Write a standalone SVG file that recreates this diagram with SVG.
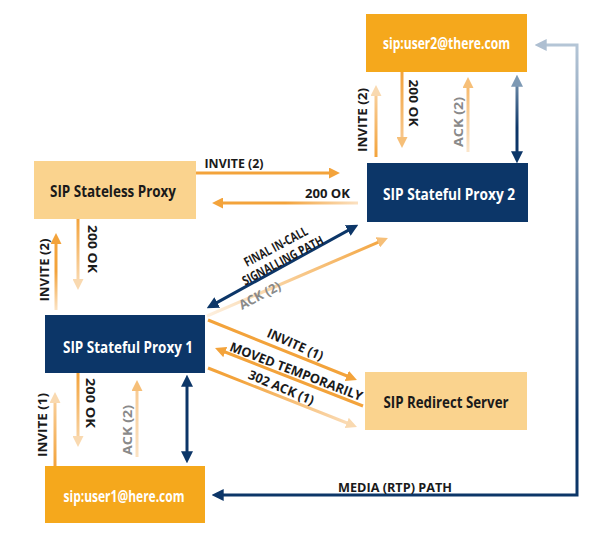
<svg xmlns="http://www.w3.org/2000/svg" width="615" height="537" viewBox="0 0 615 537">
<style>
text{font-family:"Open Sans","Liberation Sans",sans-serif;font-weight:700}
.node{font-size:16px;text-anchor:middle}
.lbl{font-size:13px;fill:#1a1a1a;text-anchor:middle}
.gray{fill:#8a8a8a}
.wt{fill:#ffffff}
.dk{fill:#1a1a1a}
.ln{fill:none;stroke-width:3}
</style>
<defs>
<marker id="ao" viewBox="0 0 10 10" refX="6.4" refY="5" markerWidth="11" markerHeight="11" markerUnits="userSpaceOnUse" orient="auto-start-reverse"><path d="M0,0L10,5L0,10z" fill="#f3a33b"/></marker>
<marker id="am" viewBox="0 0 10 10" refX="6.4" refY="5" markerWidth="11" markerHeight="11" markerUnits="userSpaceOnUse" orient="auto-start-reverse"><path d="M0,0L10,5L0,10z" fill="#f6bf78"/></marker>
<marker id="al" viewBox="0 0 10 10" refX="6.4" refY="5" markerWidth="11" markerHeight="11" markerUnits="userSpaceOnUse" orient="auto-start-reverse"><path d="M0,0L10,5L0,10z" fill="#f9d9b0"/></marker>
<marker id="an" viewBox="0 0 10 10" refX="6.4" refY="5" markerWidth="12" markerHeight="12" markerUnits="userSpaceOnUse" orient="auto-start-reverse"><path d="M0,0L10,5L0,10z" fill="#0c3668"/></marker>
<marker id="ag" viewBox="0 0 10 10" refX="6.4" refY="5" markerWidth="12" markerHeight="12" markerUnits="userSpaceOnUse" orient="auto-start-reverse"><path d="M0,0L10,5L0,10z" fill="#7d99b4"/></marker>
<marker id="agl" viewBox="0 0 10 10" refX="6.4" refY="5" markerWidth="12" markerHeight="12" markerUnits="userSpaceOnUse" orient="auto-start-reverse"><path d="M0,0L10,5L0,10z" fill="#aebfd1"/></marker>
<linearGradient id="g1" gradientUnits="userSpaceOnUse" x1="0" y1="310" x2="0" y2="233"><stop offset="0" stop-color="#fbe3c4"/><stop offset="0.5" stop-color="#f3a33b"/></linearGradient>
<linearGradient id="g2" gradientUnits="userSpaceOnUse" x1="0" y1="219" x2="0" y2="290"><stop offset="0" stop-color="#f3a33b"/><stop offset="1" stop-color="#fae0c0"/></linearGradient>
<linearGradient id="g3" gradientUnits="userSpaceOnUse" x1="0" y1="157" x2="0" y2="85"><stop offset="0" stop-color="#f3a33b"/><stop offset="1" stop-color="#f9d4a6"/></linearGradient>
<linearGradient id="g4" gradientUnits="userSpaceOnUse" x1="0" y1="72" x2="0" y2="148"><stop offset="0" stop-color="#f3a33b"/><stop offset="1" stop-color="#f8cc98"/></linearGradient>
<linearGradient id="g5" gradientUnits="userSpaceOnUse" x1="0" y1="152" x2="0" y2="77"><stop offset="0" stop-color="#fbe6cc"/><stop offset="1" stop-color="#f5b35f"/></linearGradient>
<linearGradient id="g6" gradientUnits="userSpaceOnUse" x1="0" y1="75" x2="0" y2="163"><stop offset="0" stop-color="#7d99b4"/><stop offset="0.6" stop-color="#0c3668"/></linearGradient>
<linearGradient id="g8" gradientUnits="userSpaceOnUse" x1="358" y1="0" x2="212" y2="0"><stop offset="0" stop-color="#fbe1c2"/><stop offset="0.5" stop-color="#f3a33b"/></linearGradient>
<linearGradient id="g9" gradientUnits="userSpaceOnUse" x1="0" y1="466" x2="0" y2="392"><stop offset="0" stop-color="#f3a33b"/><stop offset="1" stop-color="#f9d4a6"/></linearGradient>
<linearGradient id="g10" gradientUnits="userSpaceOnUse" x1="0" y1="373" x2="0" y2="447"><stop offset="0" stop-color="#f3a33b"/><stop offset="1" stop-color="#f9d9b0"/></linearGradient>
<linearGradient id="g11" gradientUnits="userSpaceOnUse" x1="0" y1="457" x2="0" y2="380"><stop offset="0" stop-color="#fbe3c4"/><stop offset="1" stop-color="#f7c78c"/></linearGradient>
<linearGradient id="g14" gradientUnits="userSpaceOnUse" x1="207" y1="316" x2="388" y2="238"><stop offset="0" stop-color="#fdf0e0"/><stop offset="1" stop-color="#f3a33b"/></linearGradient>
<linearGradient id="g17" gradientUnits="userSpaceOnUse" x1="208" y1="368" x2="357" y2="427"><stop offset="0.2" stop-color="#f3a33b"/><stop offset="1" stop-color="#fbe0c0"/></linearGradient>
<linearGradient id="g18" gradientUnits="userSpaceOnUse" x1="0" y1="45" x2="0" y2="420"><stop offset="0" stop-color="#b4c5d6"/><stop offset="1" stop-color="#0c3668"/></linearGradient>
</defs>

<g id="connectors">
<line class="ln" x1="56" y1="310" x2="56" y2="237" stroke="url(#g1)" marker-end="url(#ao)"/>
<line class="ln" x1="78" y1="219" x2="78" y2="286" stroke="url(#g2)" marker-end="url(#al)"/>
<line class="ln" x1="376" y1="157" x2="376" y2="89" stroke="url(#g3)" marker-end="url(#al)"/>
<line class="ln" x1="402" y1="72" x2="402" y2="144" stroke="url(#g4)" marker-end="url(#am)"/>
<line class="ln" x1="468" y1="152" x2="468" y2="81" stroke="url(#g5)" marker-end="url(#am)"/>
<line class="ln" x1="517" y1="79" x2="517" y2="159" stroke="url(#g6)" marker-start="url(#ag)" marker-end="url(#an)"/>
<line class="ln" x1="196" y1="173" x2="336" y2="173" stroke="#f3a33b" marker-end="url(#ao)"/>
<line class="ln" x1="358" y1="203" x2="216" y2="203" stroke="url(#g8)" marker-end="url(#ao)"/>
<line class="ln" x1="55" y1="466" x2="55" y2="396" stroke="url(#g9)" marker-end="url(#al)"/>
<line class="ln" x1="78" y1="373" x2="78" y2="443" stroke="url(#g10)" marker-end="url(#al)"/>
<line class="ln" x1="137" y1="457" x2="137" y2="384" stroke="url(#g11)" marker-end="url(#am)"/>
<line class="ln" x1="187" y1="379" x2="187" y2="459" stroke="#0c3668" marker-start="url(#an)" marker-end="url(#an)"/>
<line class="ln" x1="210.5" y1="306.1" x2="354.5" y2="226.9" stroke="#0c3668" marker-start="url(#an)" marker-end="url(#an)"/>
<line class="ln" x1="207" y1="316" x2="384.3" y2="239.6" stroke="url(#g14)" stroke-width="2.5" marker-end="url(#am)"/>
<line class="ln" x1="208" y1="320" x2="353.3" y2="378.5" stroke="#f3a33b" stroke-width="2.5" marker-end="url(#ao)"/>
<line class="ln" x1="363" y1="406" x2="218.7" y2="349.5" stroke="#f3a33b" stroke-width="2.5" marker-end="url(#ao)"/>
<line class="ln" x1="208" y1="368" x2="353.3" y2="425.5" stroke="url(#g17)" stroke-width="2.5" marker-end="url(#al)"/>
<path class="ln" d="M539,45H577V495H216" stroke="url(#g18)" stroke-width="2.5" marker-start="url(#agl)" marker-end="url(#an)"/>

<text class="lbl" x="234" y="168" textLength="59" lengthAdjust="spacingAndGlyphs">INVITE (2)</text>
<text class="lbl" x="327.5" y="198" textLength="45" lengthAdjust="spacingAndGlyphs">200 OK</text>
<text class="lbl" transform="translate(49,270) rotate(-90)" textLength="63" lengthAdjust="spacingAndGlyphs">INVITE (2)</text>
<text class="lbl" transform="translate(88,249) rotate(90)" textLength="48" lengthAdjust="spacingAndGlyphs">200 OK</text>
<text class="lbl" transform="translate(367,120) rotate(-90)" textLength="64" lengthAdjust="spacingAndGlyphs">INVITE (2)</text>
<text class="lbl" transform="translate(409,103) rotate(90)" textLength="47" lengthAdjust="spacingAndGlyphs">200 OK</text>
<text class="lbl gray" transform="translate(463,122) rotate(-90)" textLength="50" lengthAdjust="spacingAndGlyphs">ACK (2)</text>
<text class="lbl" transform="translate(47,425) rotate(-90)" textLength="64" lengthAdjust="spacingAndGlyphs">INVITE (1)</text>
<text class="lbl" transform="translate(86,403) rotate(90)" textLength="50" lengthAdjust="spacingAndGlyphs">200 OK</text>
<text class="lbl gray" transform="translate(132,430) rotate(-90)" textLength="50" lengthAdjust="spacingAndGlyphs">ACK (2)</text>
<text class="lbl" transform="translate(276,247) rotate(-28)" y="4" textLength="70" lengthAdjust="spacingAndGlyphs">FINAL IN-CALL</text>
<text class="lbl" transform="translate(283,261) rotate(-28)" y="4" textLength="90" lengthAdjust="spacingAndGlyphs">SIGNALLING PATH</text>
<text class="lbl gray" transform="translate(260,296) rotate(-28)" y="4" textLength="45" lengthAdjust="spacingAndGlyphs">ACK (2)</text>
<text class="lbl" transform="translate(295,345) rotate(24)" y="4" textLength="60" lengthAdjust="spacingAndGlyphs">INVITE (1)</text>
<text class="lbl" transform="translate(296,372) rotate(21)" y="4" textLength="141" lengthAdjust="spacingAndGlyphs">MOVED TEMPORARILY</text>
<text class="lbl" transform="translate(281,388) rotate(22.5)" y="4" textLength="70" lengthAdjust="spacingAndGlyphs">302 ACK (1)</text>
<text class="lbl" x="395" y="492" textLength="114" lengthAdjust="spacingAndGlyphs">MEDIA (RTP) PATH</text>
</g>

<g id="user2">
<rect x="366" y="14" width="161" height="58" fill="#f5a81c"/>
<text class="node wt" x="446.5" y="49" textLength="127" lengthAdjust="spacingAndGlyphs">sip:user2@there.com</text>
</g>
<g id="proxy2">
<rect x="367" y="163" width="161" height="59" fill="#0c3668"/>
<text class="node wt" x="449" y="200" textLength="132" lengthAdjust="spacingAndGlyphs">SIP Stateful Proxy 2</text>
</g>
<g id="stateless">
<rect x="34" y="161" width="162" height="58" fill="#fad38e"/>
<text class="node dk" x="113" y="197" textLength="126" lengthAdjust="spacingAndGlyphs">SIP Stateless Proxy</text>
</g>
<g id="proxy1">
<rect x="45" y="315" width="160" height="58" fill="#0c3668"/>
<text class="node wt" x="128" y="353" textLength="130" lengthAdjust="spacingAndGlyphs">SIP Stateful Proxy 1</text>
</g>
<g id="redirect">
<rect x="365" y="372" width="162" height="58" fill="#fad38e"/>
<text class="node dk" x="446" y="408" textLength="125" lengthAdjust="spacingAndGlyphs">SIP Redirect Server</text>
</g>
<g id="user1">
<rect x="45" y="466" width="160" height="57" fill="#f5a81c"/>
<text class="node wt" x="124" y="502" textLength="121" lengthAdjust="spacingAndGlyphs">sip:user1@here.com</text>
</g>
</svg>
